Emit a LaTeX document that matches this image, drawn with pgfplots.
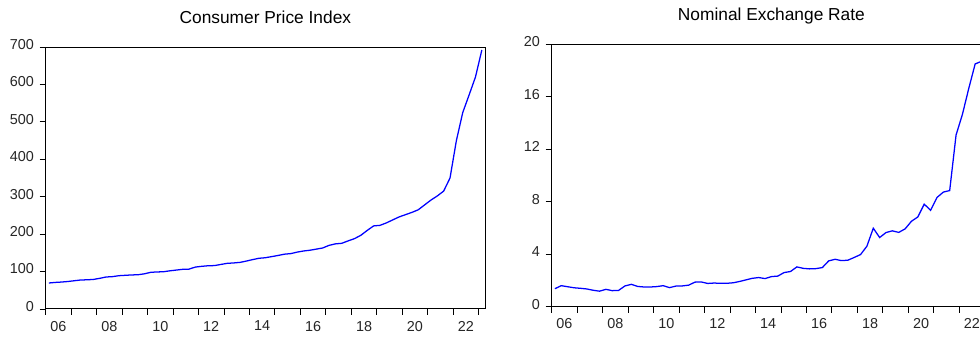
\documentclass[border=0pt]{standalone}
\usepackage{pgfplots}
\pgfplotsset{compat=1.18}
\usepackage{pgfplotstable}
\usepackage{fontspec}
\setmainfont{Liberation Sans}

\pgfplotstableread{
t v
2006.125 69.5
2006.375 71
2006.625 72
2006.875 73.5
2007.125 75.5
2007.375 77.5
2007.625 78
2007.875 79
2008.125 82
2008.375 85.5
2008.625 86.5
2008.875 89
2009.125 90
2009.375 91
2009.625 91.5
2009.875 94
2010.125 98
2010.375 99
2010.625 99.5
2010.875 102
2011.125 104
2011.375 106
2011.625 106.5
2011.875 112
2012.125 114
2012.375 115.5
2012.625 116
2012.875 119
2013.125 122
2013.375 123
2013.625 124.5
2013.875 128
2014.125 132
2014.375 135.5
2014.625 137
2014.875 140
2015.125 143
2015.375 146.5
2015.625 148
2015.875 152
2016.125 155
2016.375 157
2016.625 160
2016.875 163
2017.125 170
2017.375 174
2017.625 175.5
2017.875 182
2018.125 188
2018.375 197
2018.625 210
2018.875 222
2019.125 223.5
2019.375 230
2019.625 238
2019.875 246
2020.125 252
2020.375 258
2020.625 265
2020.875 278
2021.125 291
2021.375 302
2021.625 315
2021.875 350
2022.125 450
2022.375 525
2022.625 572
2022.875 620
2023.125 692
}\cpidata

\pgfplotstableread{
t v
2006.125 1.37
2006.375 1.60
2006.625 1.52
2006.875 1.44
2007.125 1.40
2007.375 1.35
2007.625 1.25
2007.875 1.18
2008.125 1.32
2008.375 1.22
2008.625 1.24
2008.875 1.58
2009.125 1.70
2009.375 1.54
2009.625 1.50
2009.875 1.50
2010.125 1.53
2010.375 1.60
2010.625 1.45
2010.875 1.57
2011.125 1.58
2011.375 1.64
2011.625 1.87
2011.875 1.88
2012.125 1.77
2012.375 1.80
2012.625 1.78
2012.875 1.78
2013.125 1.82
2013.375 1.92
2013.625 2.04
2013.875 2.16
2014.125 2.22
2014.375 2.14
2014.625 2.29
2014.875 2.33
2015.125 2.60
2015.375 2.68
2015.625 3.03
2015.875 2.92
2016.125 2.88
2016.375 2.90
2016.625 2.98
2016.875 3.49
2017.125 3.61
2017.375 3.51
2017.625 3.54
2017.875 3.75
2018.125 3.97
2018.375 4.61
2018.625 5.98
2018.875 5.27
2019.125 5.65
2019.375 5.78
2019.625 5.66
2019.875 5.93
2020.125 6.51
2020.375 6.84
2020.625 7.81
2020.875 7.35
2021.125 8.32
2021.375 8.73
2021.625 8.85
2021.875 13.08
2022.125 14.66
2022.375 16.64
2022.625 18.50
2022.875 18.70
2023.125 18.80
}\erdata

\pgfplotsset{
  evstyle/.style={
    scale only axis,
    width=329.5pt,
    xmin=2006, xmax=2023.25,
    axis line style={black, line width=0.75pt},
    tick style={black, line width=0.6pt},
    tick align=outside,
    major tick length=4.5pt,
    xtick pos=bottom, ytick pos=left,
    xtick={2006,...,2023},
    xticklabels={},
    extra x ticks={2006.5,2008.5,2010.5,2012.5,2014.5,2016.5,2018.5,2020.5,2022.5},
    extra x tick labels={06,08,10,12,14,16,18,20,22},
    extra x tick style={major tick length=0pt, xticklabel style={yshift=-5.5pt}},
    /pgf/number format/assume math mode=true,
    ticklabel style={font=\fontsize{10.8}{13}\selectfont, text=black!85},
    yticklabel style={yshift=1.9pt, xshift=-0.8pt},
    title style={at={(0.5,1)}, anchor=base, yshift=11.5pt, font=\fontsize{13}{15}\selectfont},
    clip=true,
  }
}

\begin{document}
\begin{tikzpicture}
\begin{axis}[evstyle,
  at={(34.275pt,21.75pt)}, anchor=south west,
  height=196.5pt,
  ymin=0, ymax=700, ytick={0,100,...,700},
  title={Consumer Price Index}]
\addplot[color={rgb,255:red,0;green,0;blue,255}, line width=0.95pt, no markers] table[x=t, y=v] {\cpidata};
\end{axis}
\begin{axis}[evstyle,
  at={(413.8pt,23.5pt)}, anchor=south west,
  height=196.8pt,
  ymin=0, ymax=20, ytick={0,4,...,20},
  title={Nominal Exchange Rate}]
\addplot[color={rgb,255:red,0;green,0;blue,255}, line width=0.95pt, no markers] table[x=t, y=v] {\erdata};
\end{axis}
\pgfresetboundingbox
\useasboundingbox (0pt,0pt) rectangle (735pt,253.5pt);
\end{tikzpicture}
\end{document}
